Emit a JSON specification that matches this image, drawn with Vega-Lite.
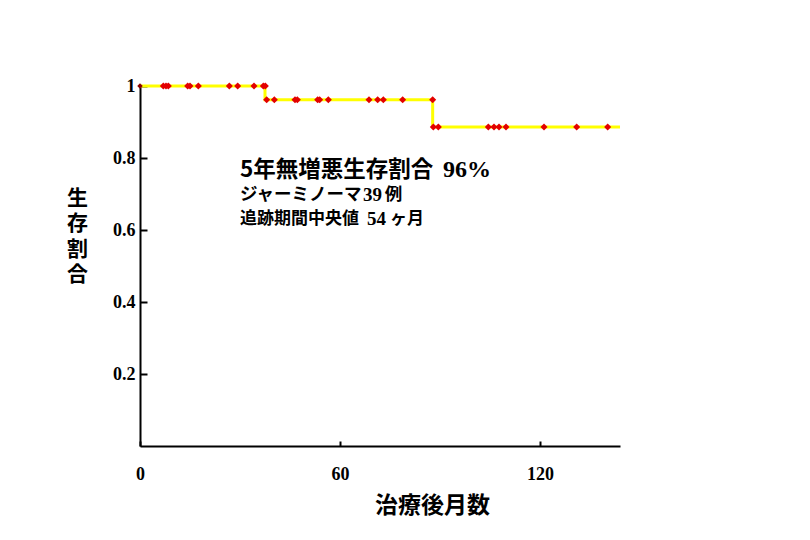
{
  "$schema": "https://vega.github.io/schema/vega-lite/v6.json",
  "autosize": {"type": "none"},
  "width": 480,
  "height": 360,
  "padding": {"left": 140, "top": 86, "right": 190, "bottom": 94},
  "background": "white",
  "config": {"view": {"stroke": null}},
  "datasets": {
    "curve": [
      {"month": 0, "surv": 1},
      {"month": 37.5, "surv": 0.962},
      {"month": 87.8, "surv": 0.886},
      {"month": 144, "surv": 0.886}
    ],
    "censor": [
      {"month": 7.0, "surv": 1}, {"month": 7.8, "surv": 1}, {"month": 8.5, "surv": 1},
      {"month": 14.3, "surv": 1}, {"month": 15.0, "surv": 1}, {"month": 17.5, "surv": 1},
      {"month": 26.8, "surv": 1}, {"month": 29.3, "surv": 1}, {"month": 34.2, "surv": 1},
      {"month": 37.0, "surv": 1}, {"month": 37.6, "surv": 1},
      {"month": 38.0, "surv": 0.962}, {"month": 40.3, "surv": 0.962}, {"month": 46.5, "surv": 0.962},
      {"month": 47.2, "surv": 0.962}, {"month": 53.3, "surv": 0.962}, {"month": 53.9, "surv": 0.962},
      {"month": 56.5, "surv": 0.962}, {"month": 68.7, "surv": 0.962}, {"month": 71.3, "surv": 0.962},
      {"month": 73.0, "surv": 0.962}, {"month": 78.8, "surv": 0.962}, {"month": 87.8, "surv": 0.962},
      {"month": 88.0, "surv": 0.886}, {"month": 89.5, "surv": 0.886}, {"month": 104.5, "surv": 0.886},
      {"month": 106.2, "surv": 0.886}, {"month": 107.7, "surv": 0.886}, {"month": 109.8, "surv": 0.886},
      {"month": 121.2, "surv": 0.886}, {"month": 131.0, "surv": 0.886}, {"month": 140.3, "surv": 0.886}
    ],
    "start": [{"month": 0, "surv": 1}],
    "sansText": [
      {"month": 30.0, "surv": 0.766, "label": "5年無増悪生存割合", "size": 22.5},
      {"month": 30.0, "surv": 0.697, "label": "ジャーミノーマ", "size": 17.5},
      {"month": 73.4, "surv": 0.697, "label": "例", "size": 17.5},
      {"month": 30.0, "surv": 0.630, "label": "追跡期間中央値", "size": 17},
      {"month": 75.0, "surv": 0.630, "label": "ヶ月", "size": 17}
    ],
    "serifText": [
      {"month": 90.9, "surv": 0.766, "label": "96%", "size": 24},
      {"month": 66.9, "surv": 0.697, "label": "39", "size": 19},
      {"month": 68.1, "surv": 0.630, "label": "54", "size": 19}
    ]
  },
  "layer": [
    {
      "data": {"name": "curve"},
      "mark": {"type": "line", "interpolate": "step-after", "color": "#FFFF00", "strokeWidth": 3},
      "encoding": {
        "x": {
          "field": "month", "type": "quantitative",
          "scale": {"domain": [0, 144], "nice": false, "zero": false},
          "axis": {
            "values": [0, 60, 120],
            "grid": false,
            "domainColor": "black", "domainWidth": 2,
            "tickColor": "black", "tickWidth": 2, "tickSize": -5,
            "labelFont": "Liberation Serif", "labelFontWeight": "bold", "labelFontSize": 18,
            "labelColor": "black", "labelPadding": 24, "labelFlush": false,
            "title": "治療後月数",
            "titleFont": "Noto Sans CJK JP", "titleFontWeight": "bold", "titleFontSize": 23,
            "titleColor": "black",
            "titleX": 292, "titleY": 59, "titleBaseline": "middle", "titleAlign": "center"
          }
        },
        "y": {
          "field": "surv", "type": "quantitative",
          "scale": {"domain": [0, 1], "nice": false},
          "axis": {
            "values": [0.2, 0.4, 0.6, 0.8, 1],
            "format": "~g",
            "grid": false,
            "domainColor": "black", "domainWidth": 2,
            "tickColor": "black", "tickWidth": 2, "tickSize": -7,
            "labelFont": "Liberation Serif", "labelFontWeight": "bold", "labelFontSize": 18,
            "labelColor": "black", "labelPadding": 12, "labelFlush": false,
            "title": ["生", "存", "割", "合"],
            "titleFont": "Noto Sans CJK JP", "titleFontWeight": "bold", "titleFontSize": 21,
            "titleColor": "black", "titleAngle": 0, "titleLineHeight": 25.5,
            "titleX": -63, "titleY": 112, "titleAlign": "center", "titleBaseline": "middle"
          }
        }
      }
    },
    {
      "data": {"name": "censor"},
      "mark": {"type": "point", "shape": "diamond", "filled": true, "color": "#E30000", "size": 50, "opacity": 1},
      "encoding": {
        "x": {"field": "month", "type": "quantitative"},
        "y": {"field": "surv", "type": "quantitative"}
      }
    },
    {
      "data": {"name": "start"},
      "mark": {"type": "point", "shape": "diamond", "filled": true, "color": "#8B0000", "size": 30, "opacity": 1},
      "encoding": {
        "x": {"field": "month", "type": "quantitative"},
        "y": {"field": "surv", "type": "quantitative"}
      }
    },
    {
      "data": {"name": "sansText"},
      "mark": {"type": "text", "align": "left", "baseline": "middle", "font": "Noto Sans CJK JP", "fontWeight": "bold", "color": "black"},
      "encoding": {
        "x": {"field": "month", "type": "quantitative"},
        "y": {"field": "surv", "type": "quantitative"},
        "text": {"field": "label"},
        "size": {"field": "size", "type": "quantitative", "scale": null}
      }
    },
    {
      "data": {"name": "serifText"},
      "mark": {"type": "text", "align": "left", "baseline": "middle", "font": "Liberation Serif", "fontWeight": "bold", "color": "black"},
      "encoding": {
        "x": {"field": "month", "type": "quantitative"},
        "y": {"field": "surv", "type": "quantitative"},
        "text": {"field": "label"},
        "size": {"field": "size", "type": "quantitative", "scale": null}
      }
    }
  ]
}
